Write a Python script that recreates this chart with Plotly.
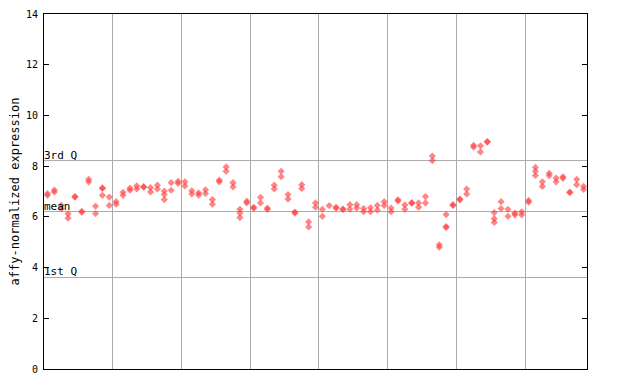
import plotly.graph_objects as go

# replicate values per sample (79 samples); None where a sample has fewer replicates
rep_a = [6.85, 6.98, 6.45, 6.12, 6.78, 6.18, 7.48, 6.42, 7.14, 6.78,
         6.60, 6.97, 7.13, 7.22, 7.19, 7.15, 7.25, 7.02, 7.35, 7.40,
         7.38, 7.03, 6.95, 7.07, 6.68, 7.45, 7.97, 7.35, 6.30, 6.62,
         6.38, 6.77, 6.35, 7.25, 7.80, 6.88, 6.19, 7.27, 5.80, 6.55,
         6.30, 6.44, 6.38, 6.31, 6.48, 6.48, 6.33, 6.36, 6.45, 6.60,
         6.35, 6.67, 6.47, 6.56, 6.55, 6.80, 8.40, 4.90, 6.09, 6.48,
         6.70, 7.10, 8.82, 8.80, 8.97, 6.17, 6.60, 6.30, 6.15, 6.20,
         6.65, 7.95, 7.38, 7.72, 7.53, 7.58, 6.98, 7.48, 7.20]
rep_b = [6.92, 7.06, 6.32, 5.95, 6.80, 6.22, 7.38, 6.13, 7.12, 6.45,
         6.50, 6.85, 7.05, 7.10, 7.17, 6.98, 7.10, 6.88, 7.05, 7.32,
         7.22, 6.90, 6.86, 6.92, 6.50, 7.38, 7.80, 7.18, 6.15, 6.55,
         6.34, 6.55, 6.29, 7.10, 7.58, 6.70, 6.15, 7.12, 5.60, 6.38,
         6.02, None, 6.34, 6.29, 6.30, 6.35, 6.20, 6.20, 6.27, 6.45,
         6.20, 6.63, 6.30, 6.54, 6.38, 6.55, 8.22, 4.80, 5.62, 6.45,
         6.67, 6.90, 8.75, 8.56, 8.95, 5.93, 6.33, 6.02, 6.08, 6.08,
         6.58, 7.80, 7.20, 7.62, 7.38, 7.52, 6.95, 7.27, 7.08]
rep_c = {9: 6.85, 18: 6.68, 29: 5.97, 59: 5.58, 66: 5.78, 72: 7.63}  # 1-based sample -> value

quartile_labels = ["3rd Q", "mean", "1st Q"]
quartile_values = [8.22, 6.21, 3.61]
y_ticks = [0, 2, 4, 6, 8, 10, 12, 14]
n_samples = len(rep_a)
group_size = 10

xs, ys = [], []
for i in range(n_samples):
    for v in (rep_a[i], rep_b[i], rep_c.get(i + 1)):
        if v is not None:
            xs.append(i)
            ys.append(v)

fig = go.Figure()
fig.add_trace(go.Scatter(
    x=xs, y=ys, mode="markers",
    marker=dict(symbol="diamond", size=5.5, color="#ff3b3b", opacity=0.62,
                line=dict(width=0)),
    hoverinfo="y", showlegend=False))

for lab, val in zip(quartile_labels, quartile_values):
    fig.add_shape(type="line", xref="paper", x0=0, x1=1, yref="y", y0=val, y1=val,
                  line=dict(color="#aaaaaa", width=1), layer="below")
    fig.add_annotation(xref="paper", x=0.0, yref="y", y=val, text=lab,
                       showarrow=False, xanchor="left", yanchor="bottom",
                       font=dict(family="DejaVu Sans Mono", size=11, color="black"),
                       yshift=-3, xshift=-2)

fig.add_annotation(xref="paper", yref="paper", x=-0.061, y=0.5, xshift=-4,
                   text="affy-normalized expression", textangle=-90, borderpad=0,
                   showarrow=False, font=dict(family="DejaVu Sans Mono", size=12, color="black"))

grid_x = [g - 0.5 for g in range(group_size, n_samples, group_size)]
fig.update_xaxes(range=[-0.5, n_samples - 0.5], tickvals=grid_x, showticklabels=False,
                 ticks="", showgrid=True, gridcolor="#aaaaaa", gridwidth=1,
                 showline=True, linecolor="black", linewidth=1, mirror=True,
                 zeroline=False, automargin=False)
fig.update_yaxes(range=[0, 14], tickvals=y_ticks, ticks="inside", ticklen=5,
                 tickcolor="black", showgrid=False, zeroline=False,
                 showline=True, linecolor="black", linewidth=1, mirror="ticks",
                 tickfont=dict(family="DejaVu Sans Mono", size=10, color="black"),
                 ticklabelstandoff=3, automargin=False)

# page body adds an 8px offset, so margins are shifted to place the plot area at 44..587 x 14..369
fig.update_layout(width=640, height=384, margin=dict(l=36, r=61, t=6, b=23),
                  plot_bgcolor="white", paper_bgcolor="white")
fig.write_html("out.html")
